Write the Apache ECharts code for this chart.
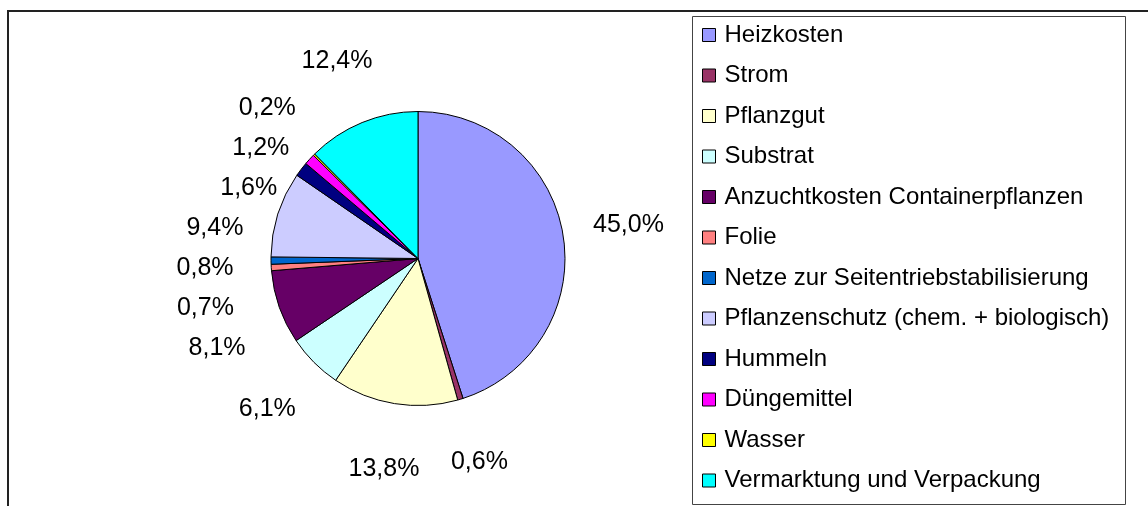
<!DOCTYPE html>
<html>
<head>
<meta charset="utf-8">
<script src="https://cdn.jsdelivr.net/npm/echarts@6/dist/echarts.min.js"></script>
<style>
    html, body { margin: 0; padding: 0; background: #fff; }
    #chart-wrap { width: 1148px; height: 506px; }
</style>
</head>
<body>
<div id="chart-wrap"></div>
<script>
// Kostenanteile (%)
var categories = [
    'Heizkosten',
    'Strom',
    'Pflanzgut',
    'Substrat',
    'Anzuchtkosten Containerpflanzen',
    'Folie',
    'Netze zur Seitentriebstabilisierung',
    'Pflanzenschutz (chem. + biologisch)',
    'Hummeln',
    'Düngemittel',
    'Wasser',
    'Vermarktung und Verpackung'
];
var values = [45.0, 0.6, 13.8, 6.1, 8.1, 0.7, 0.8, 9.4, 1.6, 1.2, 0.2, 12.4];
var colors = ['#9999ff', '#993366', '#ffffcc', '#ccffff', '#660066', '#ff8080',
              '#0066cc', '#ccccff', '#000080', '#ff00ff', '#ffff00', '#00ffff'];

var FONT = '"Liberation Sans", Arial, sans-serif';
var LABEL_GAP = 66; // Abstand Beschriftungsmitte vom Kreisrand

var pieData = [];
for (var i = 0; i < categories.length; i++) {
    pieData.push({
        name: categories[i],
        value: values[i],
        itemStyle: { color: colors[i] }
    });
}

var chart = echarts.init(document.getElementById('chart-wrap'));

var option = {
    animation: false,
    backgroundColor: '#fff',
    graphic: [
        {
            // äußerer Rahmen (nur links/oben sichtbar)
            type: 'rect',
            z: -1,
            shape: { x: 8, y: 11, width: 1300, height: 700 },
            style: { fill: 'none', stroke: '#222', lineWidth: 2 }
        },
        {
            // Legendenrahmen
            type: 'rect',
            z: -1,
            shape: { x: 692.5, y: 16.5, width: 433, height: 488 },
            style: { fill: '#fff', stroke: '#444', lineWidth: 1 }
        }
    ],
    legend: {
        orient: 'vertical',
        left: 702,
        top: 23,
        padding: 0,
        itemGap: 16.5,
        itemWidth: 13,
        itemHeight: 13,
        icon: 'rect',
        selectedMode: false,
        itemStyle: { borderColor: '#000', borderWidth: 1 },
        textStyle: {
            fontFamily: FONT,
            fontSize: 24,
            lineHeight: 24,
            color: '#000',
            padding: [0, 0, 0, 4]
        },
        data: categories
    },
    series: [{
        type: 'pie',
        center: [418, 258.5],
        radius: 147,
        startAngle: 90,
        clockwise: true,
        avoidLabelOverlap: false,
        minShowLabelAngle: 0,
        itemStyle: { borderColor: '#000', borderWidth: 1 },
        label: {
            show: true,
            position: 'outside',
            fontFamily: FONT,
            fontSize: 25,
            lineHeight: 40,
            color: '#000',
            formatter: function (p) {
                return p.value.toFixed(1).replace('.', ',') + '%';
            }
        },
        // Linie nur als Richtungsangabe, unsichtbar
        labelLine: { show: true, length: 10, length2: 0, lineStyle: { opacity: 0 } },
        labelLayout: function (params) {
            var pts = params.labelLinePoints;
            if (!pts) return {};
            var dx = pts[1][0] - pts[0][0];
            var dy = pts[1][1] - pts[0][1];
            var len = Math.sqrt(dx * dx + dy * dy) || 1;
            var ux = dx / len, uy = dy / len;
            return {
                x: pts[0][0] + ux * LABEL_GAP,
                y: pts[0][1] + uy * LABEL_GAP,
                align: 'center',
                verticalAlign: 'middle',
                moveOverlap: ux < 0 ? 'shiftY' : null
            };
        },
        emphasis: { disabled: true },
        data: pieData
    }]
};

chart.setOption(option);
</script>
</body>
</html>
